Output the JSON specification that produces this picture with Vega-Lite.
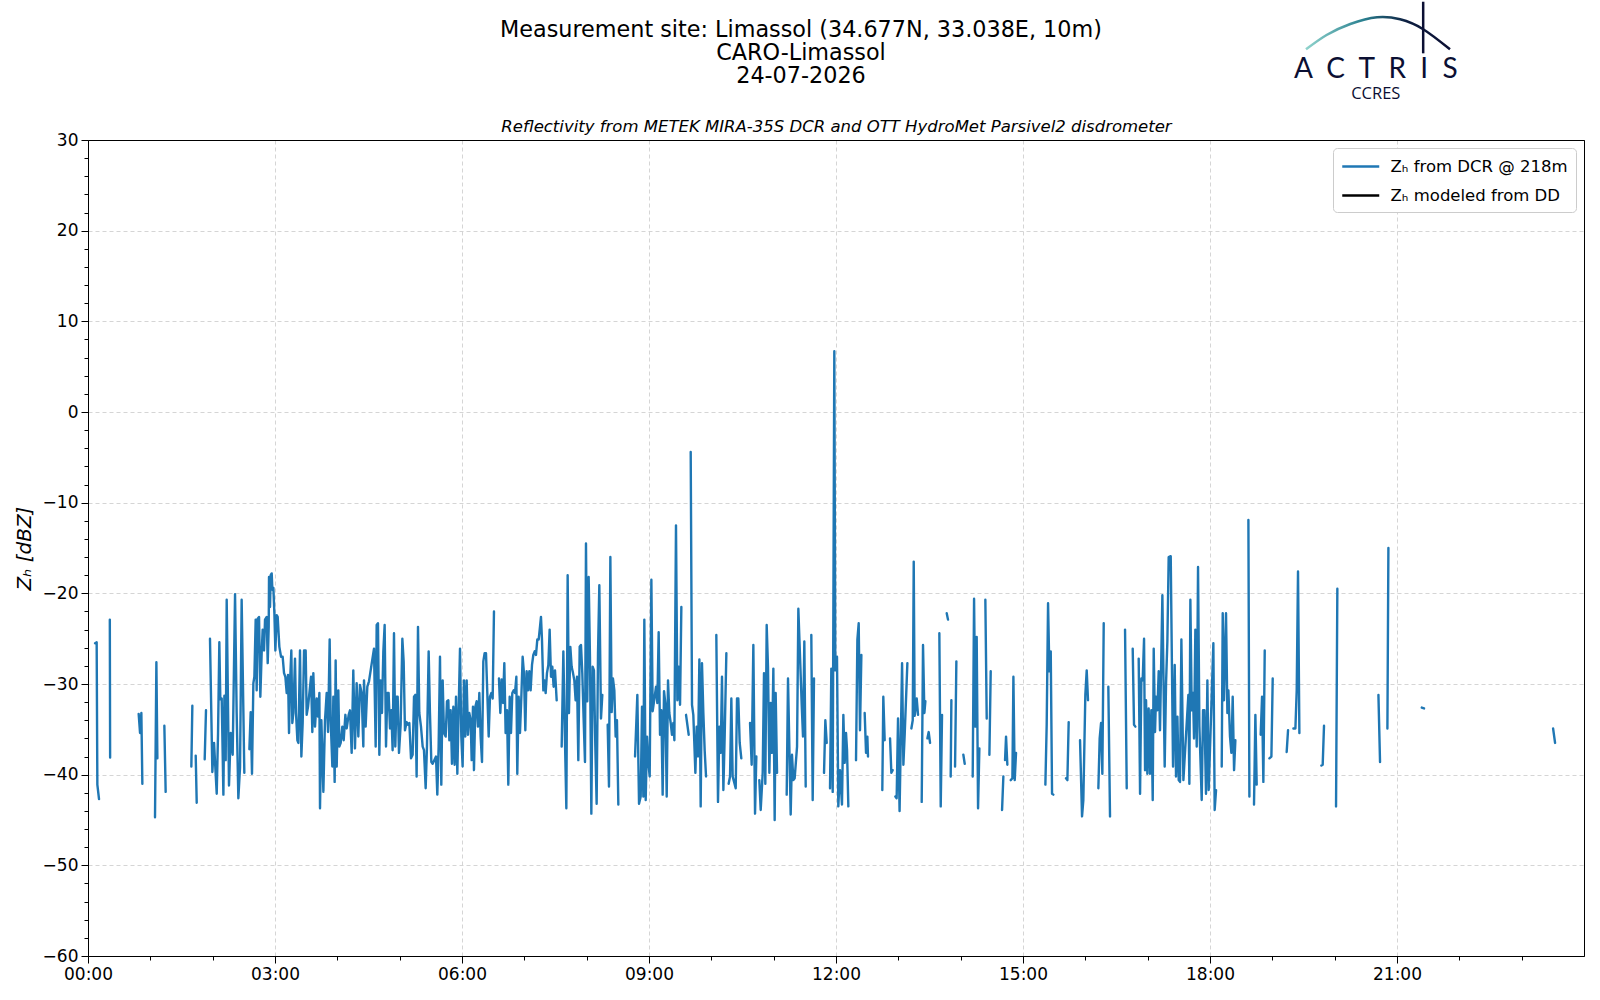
{
"$schema": "https://vega.github.io/schema/vega-lite/v6.json",
"width": 1496, "height": 816,
"autosize": {"type": "none"},
"padding": {"left": 88, "top": 140, "right": 16, "bottom": 44},
"background": "white",
"title": {"text": ["Measurement site: Limassol (34.677N, 33.038E, 10m)", "CARO-Limassol", "24-07-2026"], "fontSize": 22.3, "font": "DejaVu Sans", "fontWeight": "normal", "color": "black", "anchor": "middle", "dx": -35, "lineHeight": 23.2, "offset": -87},
"config": {"view": {"stroke": "black", "strokeWidth": 1}, "font": "DejaVu Sans"},
"layer": [
{
"data": {"values": [
{"t":0.113,"z":-25.5,"g":1},{"t":0.139,"z":-25.4,"g":1},{"t":0.150,"z":-41.1,"g":1},{"t":0.177,"z":-42.7,"g":1},
{"t":0.350,"z":-22.9,"g":2},{"t":0.355,"z":-38.1,"g":2},
{"t":0.813,"z":-33.3,"g":3},{"t":0.835,"z":-35.4,"g":3},{"t":0.856,"z":-33.2,"g":3},{"t":0.872,"z":-41.0,"g":3},
{"t":1.075,"z":-44.7,"g":4},{"t":1.097,"z":-27.6,"g":4},{"t":1.113,"z":-38.2,"g":4},
{"t":1.225,"z":-34.6,"g":5},{"t":1.246,"z":-41.9,"g":5},
{"t":1.658,"z":-39.1,"g":6},{"t":1.674,"z":-32.4,"g":6},
{"t":1.728,"z":-37.9,"g":7},{"t":1.744,"z":-43.1,"g":7},
{"t":1.872,"z":-38.3,"g":8},{"t":1.893,"z":-32.9,"g":8},
{"t":1.957,"z":-25.0,"g":9},{"t":1.995,"z":-39.7,"g":9},{"t":2.022,"z":-36.5,"g":9},{"t":2.065,"z":-42.1,"g":9},{"t":2.086,"z":-35.5,"g":9},{"t":2.107,"z":-25.4,"g":9},{"t":2.123,"z":-31.7,"g":9},{"t":2.145,"z":-31.6,"g":9},{"t":2.172,"z":-42.2,"g":9},{"t":2.188,"z":-31.3,"g":9},{"t":2.209,"z":-38.4,"g":9},{"t":2.225,"z":-20.7,"g":9},{"t":2.262,"z":-41.2,"g":9},{"t":2.289,"z":-35.4,"g":9},{"t":2.321,"z":-37.8,"g":9},{"t":2.359,"z":-20.1,"g":9},{"t":2.385,"z":-33.2,"g":9},{"t":2.412,"z":-42.6,"g":9},{"t":2.439,"z":-39.2,"g":9},{"t":2.465,"z":-20.7,"g":9},{"t":2.508,"z":-39.8,"g":9},
{"t":2.589,"z":-37.2,"g":10},{"t":2.610,"z":-33.1,"g":10},{"t":2.631,"z":-39.9,"g":10},{"t":2.653,"z":-29.9,"g":10},{"t":2.669,"z":-29.2,"g":10},{"t":2.690,"z":-22.9,"g":10},{"t":2.706,"z":-30.7,"g":10},{"t":2.722,"z":-22.8,"g":10},{"t":2.744,"z":-22.6,"g":10},{"t":2.765,"z":-31.4,"g":10},{"t":2.786,"z":-26.6,"g":10},{"t":2.802,"z":-24.0,"g":10},{"t":2.824,"z":-26.3,"g":10},{"t":2.840,"z":-22.9,"g":10},{"t":2.867,"z":-22.6,"g":10},{"t":2.883,"z":-27.7,"g":10},{"t":2.899,"z":-23.7,"g":10},{"t":2.904,"z":-18.2,"g":10},{"t":2.920,"z":-21.5,"g":10},{"t":2.931,"z":-18.0,"g":10},{"t":2.947,"z":-17.8,"g":10},{"t":2.958,"z":-19.6,"g":10},{"t":2.974,"z":-19.4,"g":10},{"t":2.990,"z":-22.2,"g":10},{"t":3.006,"z":-26.3,"g":10},{"t":3.027,"z":-22.4,"g":10},{"t":3.043,"z":-22.6,"g":10},{"t":3.070,"z":-25.9,"g":10},{"t":3.097,"z":-27.0,"g":10},{"t":3.123,"z":-27.0,"g":10},{"t":3.145,"z":-28.8,"g":10},{"t":3.166,"z":-29.2,"g":10},{"t":3.188,"z":-31.0,"g":10},{"t":3.209,"z":-29.0,"g":10},{"t":3.225,"z":-35.4,"g":10},{"t":3.241,"z":-29.9,"g":10},{"t":3.262,"z":-26.3,"g":10},{"t":3.278,"z":-34.3,"g":10},{"t":3.294,"z":-33.2,"g":10},{"t":3.321,"z":-27.2,"g":10},{"t":3.337,"z":-33.2,"g":10},{"t":3.359,"z":-36.2,"g":10},{"t":3.375,"z":-36.5,"g":10},{"t":3.401,"z":-26.3,"g":10},{"t":3.423,"z":-38.0,"g":10},{"t":3.444,"z":-34.3,"g":10},{"t":3.466,"z":-26.3,"g":10},{"t":3.492,"z":-26.3,"g":10},{"t":3.508,"z":-33.4,"g":10},{"t":3.530,"z":-32.5,"g":10},{"t":3.578,"z":-29.2,"g":10},{"t":3.599,"z":-35.3,"g":10},{"t":3.615,"z":-28.8,"g":10},{"t":3.642,"z":-34.7,"g":10},{"t":3.669,"z":-31.6,"g":10},{"t":3.690,"z":-33.6,"g":10},{"t":3.712,"z":-31.0,"g":10},{"t":3.722,"z":-43.7,"g":10},{"t":3.744,"z":-34.0,"g":10},{"t":3.776,"z":-41.9,"g":10},{"t":3.802,"z":-34.0,"g":10},{"t":3.829,"z":-31.0,"g":10},{"t":3.851,"z":-35.3,"g":10},{"t":3.877,"z":-25.1,"g":10},{"t":3.893,"z":-34.0,"g":10},{"t":3.920,"z":-39.1,"g":10},{"t":3.936,"z":-31.4,"g":10},{"t":3.957,"z":-40.8,"g":10},{"t":3.973,"z":-27.4,"g":10},{"t":3.990,"z":-39.1,"g":10},{"t":4.016,"z":-30.7,"g":10},{"t":4.032,"z":-36.9,"g":10},{"t":4.054,"z":-36.5,"g":10},{"t":4.080,"z":-34.7,"g":10},{"t":4.102,"z":-36.2,"g":10},{"t":4.129,"z":-33.4,"g":10},{"t":4.150,"z":-34.9,"g":10},{"t":4.182,"z":-33.4,"g":10},
{"t":4.203,"z":-32.9,"g":10},{"t":4.230,"z":-37.6,"g":10},{"t":4.256,"z":-28.5,"g":10},{"t":4.283,"z":-37.1,"g":10},{"t":4.310,"z":-29.9,"g":10},{"t":4.337,"z":-35.8,"g":10},{"t":4.363,"z":-30.1,"g":10},{"t":4.390,"z":-31.0,"g":10},{"t":4.417,"z":-36.9,"g":10},{"t":4.428,"z":-29.6,"g":10},{"t":4.454,"z":-34.7,"g":10},{"t":4.481,"z":-30.3,"g":10},{"t":4.508,"z":-29.7,"g":10},{"t":4.588,"z":-26.1,"g":10},{"t":4.615,"z":-36.9,"g":10},{"t":4.631,"z":-23.5,"g":10},{"t":4.652,"z":-23.3,"g":10},{"t":4.674,"z":-37.8,"g":10},{"t":4.695,"z":-29.6,"g":10},{"t":4.716,"z":-33.2,"g":10},{"t":4.738,"z":-26.4,"g":10},{"t":4.759,"z":-23.5,"g":10},{"t":4.781,"z":-36.9,"g":10},{"t":4.802,"z":-31.0,"g":10},{"t":4.823,"z":-31.0,"g":10},{"t":4.845,"z":-34.9,"g":10},{"t":4.866,"z":-32.9,"g":10},{"t":4.887,"z":-37.3,"g":10},{"t":4.909,"z":-24.4,"g":10},{"t":4.930,"z":-36.9,"g":10},{"t":4.952,"z":-31.4,"g":10},{"t":4.968,"z":-31.4,"g":10},{"t":4.989,"z":-37.6,"g":10},{"t":5.016,"z":-34.5,"g":10},{"t":5.043,"z":-25.0,"g":10},{"t":5.064,"z":-27.5,"g":10},{"t":5.085,"z":-35.1,"g":10},{"t":5.112,"z":-34.2,"g":10},{"t":5.133,"z":-34.5,"g":10},{"t":5.155,"z":-34.3,"g":10},{"t":5.182,"z":-38.2,"g":10},{"t":5.208,"z":-37.8,"g":10},{"t":5.230,"z":-31.4,"g":10},{"t":5.251,"z":-31.2,"g":10},{"t":5.272,"z":-40.2,"g":10},{"t":5.294,"z":-23.7,"g":10},{"t":5.315,"z":-33.2,"g":10},{"t":5.342,"z":-34.7,"g":10},{"t":5.369,"z":-36.9,"g":10},{"t":5.390,"z":-37.3,"g":10},{"t":5.417,"z":-41.5,"g":10},{"t":5.438,"z":-36.9,"g":10},{"t":5.465,"z":-26.4,"g":10},{"t":5.486,"z":-33.2,"g":10},{"t":5.508,"z":-38.6,"g":10},{"t":5.529,"z":-38.8,"g":10},{"t":5.583,"z":-38.0,"g":10},{"t":5.604,"z":-42.2,"g":10},{"t":5.625,"z":-36.9,"g":10},{"t":5.647,"z":-27.0,"g":10},{"t":5.668,"z":-41.1,"g":10},{"t":5.690,"z":-29.6,"g":10},{"t":5.711,"z":-35.4,"g":10},{"t":5.738,"z":-35.8,"g":10},{"t":5.759,"z":-31.9,"g":10},{"t":5.781,"z":-31.8,"g":10},{"t":5.797,"z":-36.2,"g":10},{"t":5.818,"z":-32.9,"g":10},{"t":5.839,"z":-38.8,"g":10},{"t":5.861,"z":-32.5,"g":10},{"t":5.882,"z":-38.9,"g":10},{"t":5.904,"z":-31.4,"g":10},{"t":5.925,"z":-39.9,"g":10},{"t":5.946,"z":-32.9,"g":10},{"t":5.968,"z":-26.1,"g":10},{"t":5.989,"z":-35.8,"g":10},{"t":6.010,"z":-39.1,"g":10},{"t":6.032,"z":-29.6,"g":10},{"t":6.053,"z":-35.8,"g":10},{"t":6.075,"z":-29.6,"g":10},{"t":6.096,"z":-35.6,"g":10},{"t":6.117,"z":-33.2,"g":10},{"t":6.139,"z":-34.0,"g":10},{"t":6.155,"z":-38.4,"g":10},{"t":6.176,"z":-32.5,"g":10},{"t":6.192,"z":-39.5,"g":10},{"t":6.214,"z":-32.5,"g":10},{"t":6.235,"z":-31.9,"g":10},{"t":6.256,"z":-34.7,"g":10},{"t":6.278,"z":-31.0,"g":10},{"t":6.299,"z":-35.8,"g":10},{"t":6.321,"z":-38.6,"g":10},{"t":6.342,"z":-27.5,"g":10},{"t":6.363,"z":-26.6,"g":10},{"t":6.385,"z":-26.6,"g":10},{"t":6.406,"z":-31.0,"g":10},{"t":6.428,"z":-35.8,"g":10},{"t":6.449,"z":-31.4,"g":10},{"t":6.470,"z":-31.0,"g":10},{"t":6.492,"z":-31.6,"g":10},{"t":6.513,"z":-22.0,"g":10},
{"t":6.593,"z":-29.4,"g":11},{"t":6.615,"z":-33.2,"g":11},{"t":6.636,"z":-29.5,"g":11},{"t":6.658,"z":-32.1,"g":11},{"t":6.679,"z":-27.7,"g":11},{"t":6.700,"z":-35.4,"g":11},{"t":6.722,"z":-32.9,"g":11},{"t":6.743,"z":-41.1,"g":11},{"t":6.765,"z":-31.4,"g":11},{"t":6.786,"z":-35.4,"g":11},{"t":6.807,"z":-31.0,"g":11},{"t":6.829,"z":-30.7,"g":11},{"t":6.850,"z":-31.0,"g":11},{"t":6.872,"z":-29.2,"g":11},{"t":6.887,"z":-39.9,"g":11},{"t":6.909,"z":-31.4,"g":11},{"t":6.930,"z":-35.4,"g":11},{"t":6.952,"z":-31.4,"g":11},{"t":6.973,"z":-27.0,"g":11},{"t":6.994,"z":-28.8,"g":11},{"t":7.016,"z":-35.1,"g":11},{"t":7.037,"z":-28.6,"g":11},{"t":7.059,"z":-30.7,"g":11},{"t":7.080,"z":-28.6,"g":11},{"t":7.101,"z":-30.7,"g":11},{"t":7.123,"z":-27.9,"g":11},{"t":7.144,"z":-26.8,"g":11},{"t":7.166,"z":-26.4,"g":11},{"t":7.187,"z":-26.8,"g":11},{"t":7.208,"z":-25.1,"g":11},{"t":7.230,"z":-25.1,"g":11},{"t":7.251,"z":-23.7,"g":11},{"t":7.267,"z":-22.6,"g":11},{"t":7.283,"z":-25.1,"g":11},{"t":7.305,"z":-30.7,"g":11},{"t":7.321,"z":-29.6,"g":11},{"t":7.342,"z":-31.0,"g":11},{"t":7.363,"z":-28.8,"g":11},{"t":7.385,"z":-27.9,"g":11},{"t":7.406,"z":-24.0,"g":11},{"t":7.428,"z":-29.2,"g":11},{"t":7.449,"z":-28.1,"g":11},{"t":7.470,"z":-30.3,"g":11},{"t":7.492,"z":-28.5,"g":11},{"t":7.519,"z":-31.8,"g":11},
{"t":7.599,"z":-36.9,"g":12},{"t":7.626,"z":-26.4,"g":12},{"t":7.652,"z":-36.2,"g":12},{"t":7.674,"z":-43.7,"g":12},{"t":7.695,"z":-18.0,"g":12},{"t":7.716,"z":-33.2,"g":12},{"t":7.738,"z":-25.9,"g":12},{"t":7.759,"z":-28.1,"g":12},{"t":7.781,"z":-28.8,"g":12},{"t":7.802,"z":-29.6,"g":12},{"t":7.823,"z":-31.8,"g":12},{"t":7.845,"z":-29.2,"g":12},{"t":7.866,"z":-38.4,"g":12},{"t":7.888,"z":-25.9,"g":12},{"t":7.909,"z":-25.7,"g":12},{"t":7.930,"z":-28.8,"g":12},{"t":7.952,"z":-34.0,"g":12},{"t":7.973,"z":-38.6,"g":12},{"t":7.989,"z":-14.5,"g":12},{"t":8.010,"z":-31.9,"g":12},{"t":8.032,"z":-18.2,"g":12},{"t":8.053,"z":-27.0,"g":12},{"t":8.075,"z":-44.3,"g":12},{"t":8.096,"z":-28.1,"g":12},{"t":8.117,"z":-28.5,"g":12},{"t":8.139,"z":-36.9,"g":12},{"t":8.160,"z":-43.2,"g":12},{"t":8.182,"z":-26.6,"g":12},{"t":8.203,"z":-19.1,"g":12},{"t":8.230,"z":-33.8,"g":12},{"t":8.251,"z":-31.2,"g":12},
{"t":8.337,"z":-34.5,"g":13},{"t":8.358,"z":-41.3,"g":13},{"t":8.380,"z":-16.0,"g":13},{"t":8.401,"z":-33.1,"g":13},{"t":8.422,"z":-29.4,"g":13},{"t":8.444,"z":-30.7,"g":13},{"t":8.465,"z":-35.8,"g":13},{"t":8.486,"z":-34.0,"g":13},{"t":8.508,"z":-43.3,"g":13},
{"t":8.776,"z":-38.0,"g":14},{"t":8.813,"z":-31.2,"g":14},{"t":8.840,"z":-43.2,"g":14},{"t":8.867,"z":-42.4,"g":14},{"t":8.888,"z":-32.5,"g":14},{"t":8.909,"z":-42.4,"g":14},{"t":8.925,"z":-22.9,"g":14},{"t":8.947,"z":-42.8,"g":14},{"t":8.968,"z":-35.8,"g":14},{"t":8.990,"z":-38.7,"g":14},{"t":9.011,"z":-40.2,"g":14},{"t":9.038,"z":-18.5,"g":14},{"t":9.059,"z":-33.0,"g":14},{"t":9.113,"z":-30.3,"g":14},{"t":9.134,"z":-32.1,"g":14},{"t":9.155,"z":-24.3,"g":14},{"t":9.177,"z":-35.6,"g":14},{"t":9.198,"z":-32.9,"g":14},{"t":9.219,"z":-42.2,"g":14},{"t":9.241,"z":-30.8,"g":14},{"t":9.262,"z":-32.1,"g":14},{"t":9.284,"z":-42.4,"g":14},{"t":9.305,"z":-29.6,"g":14},{"t":9.326,"z":-33.2,"g":14},{"t":9.348,"z":-34.3,"g":14},{"t":9.369,"z":-35.6,"g":14},{"t":9.391,"z":-34.3,"g":14},{"t":9.407,"z":-36.2,"g":14},{"t":9.433,"z":-12.5,"g":14},{"t":9.455,"z":-31.8,"g":14},{"t":9.476,"z":-28.1,"g":14},{"t":9.498,"z":-32.3,"g":14},{"t":9.519,"z":-21.5,"g":14},
{"t":9.594,"z":-33.4,"g":15},{"t":9.637,"z":-35.6,"g":15},
{"t":9.669,"z":-4.4,"g":16},{"t":9.690,"z":-32.3,"g":16},{"t":9.711,"z":-33.4,"g":16},{"t":9.744,"z":-39.8,"g":16},{"t":9.765,"z":-34.7,"g":16},{"t":9.786,"z":-38.0,"g":16},{"t":9.808,"z":-27.3,"g":16},{"t":9.829,"z":-43.5,"g":16},{"t":9.850,"z":-27.7,"g":16},{"t":9.872,"z":-33.2,"g":16},{"t":9.893,"z":-37.3,"g":16},{"t":9.915,"z":-40.2,"g":16},
{"t":10.080,"z":-24.6,"g":17},{"t":10.107,"z":-43.0,"g":17},{"t":10.129,"z":-34.7,"g":17},{"t":10.150,"z":-37.6,"g":17},{"t":10.171,"z":-29.2,"g":17},{"t":10.193,"z":-41.7,"g":17},{"t":10.214,"z":-35.8,"g":17},{"t":10.241,"z":-26.6,"g":17},
{"t":10.278,"z":-41.0,"g":18},{"t":10.300,"z":-40.2,"g":18},{"t":10.321,"z":-31.6,"g":18},{"t":10.342,"z":-40.2,"g":18},{"t":10.391,"z":-41.5,"g":18},{"t":10.412,"z":-31.6,"g":18},{"t":10.433,"z":-31.6,"g":18},{"t":10.455,"z":-36.5,"g":18},{"t":10.481,"z":-38.2,"g":18},
{"t":10.621,"z":-34.3,"g":19},{"t":10.647,"z":-38.9,"g":19},{"t":10.674,"z":-25.7,"g":19},{"t":10.701,"z":-44.3,"g":19},{"t":10.722,"z":-38.0,"g":19},
{"t":10.770,"z":-40.6,"g":20},{"t":10.792,"z":-43.9,"g":20},{"t":10.824,"z":-39.8,"g":20},{"t":10.845,"z":-28.8,"g":20},{"t":10.866,"z":-41.0,"g":20},{"t":10.888,"z":-23.5,"g":20},{"t":10.909,"z":-28.1,"g":20},{"t":10.931,"z":-39.8,"g":20},{"t":10.952,"z":-32.1,"g":20},{"t":10.973,"z":-37.6,"g":20},{"t":10.995,"z":-28.3,"g":20},{"t":11.016,"z":-45.0,"g":20},{"t":11.032,"z":-31.0,"g":20},{"t":11.054,"z":-39.8,"g":20},
{"t":11.209,"z":-42.2,"g":21},{"t":11.230,"z":-29.4,"g":21},{"t":11.273,"z":-44.4,"g":21},{"t":11.294,"z":-37.8,"g":21},{"t":11.316,"z":-40.6,"g":21},{"t":11.337,"z":-40.4,"g":21},{"t":11.375,"z":-36.9,"g":21},{"t":11.396,"z":-21.7,"g":21},{"t":11.450,"z":-32.3,"g":21},{"t":11.471,"z":-35.8,"g":21},{"t":11.492,"z":-25.3,"g":21},{"t":11.514,"z":-41.3,"g":21},
{"t":11.604,"z":-24.6,"g":22},{"t":11.626,"z":-42.8,"g":22},{"t":11.647,"z":-29.4,"g":22},
{"t":11.808,"z":-39.8,"g":23},{"t":11.829,"z":-34.0,"g":23},{"t":11.851,"z":-36.5,"g":23},
{"t":11.904,"z":-41.5,"g":24},{"t":11.925,"z":-28.3,"g":24},{"t":11.947,"z":-41.9,"g":24},{"t":11.973,"z":6.7,"g":24},{"t":11.989,"z":-28.5,"g":24},{"t":12.016,"z":-27.0,"g":24},{"t":12.037,"z":-43.5,"g":24},{"t":12.064,"z":-39.5,"g":24},{"t":12.096,"z":-43.3,"g":24},{"t":12.118,"z":-33.4,"g":24},{"t":12.139,"z":-38.7,"g":24},{"t":12.161,"z":-35.4,"g":24},{"t":12.177,"z":-37.3,"g":24},{"t":12.198,"z":-43.5,"g":24},
{"t":12.321,"z":-38.4,"g":25},{"t":12.343,"z":-25.1,"g":25},{"t":12.364,"z":-23.3,"g":25},{"t":12.385,"z":-35.1,"g":25},{"t":12.407,"z":-26.8,"g":25},
{"t":12.460,"z":-33.2,"g":26},{"t":12.482,"z":-37.6,"g":26},{"t":12.503,"z":-35.8,"g":26},{"t":12.513,"z":-38.0,"g":26},
{"t":12.743,"z":-41.7,"g":27},{"t":12.759,"z":-31.4,"g":27},{"t":12.781,"z":-36.2,"g":27},
{"t":12.867,"z":-36.0,"g":28},{"t":12.888,"z":-39.8,"g":28},{"t":12.909,"z":-39.5,"g":28},
{"t":12.952,"z":-42.4,"g":29},{"t":12.973,"z":-42.6,"g":29},{"t":12.995,"z":-33.8,"g":29},{"t":13.020,"z":-44.0,"g":29},{"t":13.060,"z":-27.7,"g":29},{"t":13.081,"z":-38.9,"g":29},{"t":13.102,"z":-35.6,"g":29},{"t":13.145,"z":-27.7,"g":29},
{"t":13.209,"z":-34.9,"g":30},{"t":13.231,"z":-34.0,"g":30},{"t":13.247,"z":-16.5,"g":30},{"t":13.262,"z":-33.5,"g":30},{"t":13.295,"z":-31.6,"g":30},{"t":13.316,"z":-33.4,"g":30},
{"t":13.375,"z":-43.0,"g":31},{"t":13.396,"z":-25.7,"g":31},{"t":13.418,"z":-33.2,"g":31},{"t":13.434,"z":-31.9,"g":31},
{"t":13.466,"z":-36.0,"g":32},{"t":13.487,"z":-35.3,"g":32},{"t":13.509,"z":-36.5,"g":32},
{"t":13.658,"z":-24.4,"g":33},{"t":13.680,"z":-43.5,"g":33},{"t":13.701,"z":-33.4,"g":33},
{"t":13.776,"z":-22.2,"g":34},{"t":13.797,"z":-22.9,"g":34},
{"t":13.840,"z":-40.2,"g":35},{"t":13.851,"z":-31.8,"g":35},
{"t":13.910,"z":-39.1,"g":36},{"t":13.931,"z":-27.5,"g":36},
{"t":14.043,"z":-37.8,"g":37},{"t":14.065,"z":-38.8,"g":37},
{"t":14.193,"z":-40.2,"g":38},{"t":14.215,"z":-20.6,"g":38},{"t":14.236,"z":-34.7,"g":38},{"t":14.257,"z":-24.8,"g":38},{"t":14.279,"z":-43.7,"g":38},{"t":14.300,"z":-37.1,"g":38},
{"t":14.396,"z":-20.7,"g":39},{"t":14.418,"z":-33.8,"g":39},
{"t":14.461,"z":-37.8,"g":40},{"t":14.482,"z":-28.6,"g":40},
{"t":14.664,"z":-43.9,"g":41},{"t":14.685,"z":-40.2,"g":41},
{"t":14.712,"z":-38.4,"g":42},{"t":14.728,"z":-35.8,"g":42},{"t":14.749,"z":-38.9,"g":42},
{"t":14.803,"z":-40.6,"g":43},{"t":14.830,"z":-40.4,"g":43},{"t":14.846,"z":-29.2,"g":43},{"t":14.867,"z":-40.6,"g":43},{"t":14.888,"z":-37.6,"g":43},
{"t":15.359,"z":-41.1,"g":44},{"t":15.380,"z":-34.5,"g":44},{"t":15.402,"z":-21.1,"g":44},{"t":15.423,"z":-28.6,"g":44},{"t":15.445,"z":-26.4,"g":44},{"t":15.466,"z":-42.1,"g":44},{"t":15.487,"z":-42.2,"g":44},
{"t":15.690,"z":-40.4,"g":45},{"t":15.712,"z":-40.6,"g":45},{"t":15.733,"z":-34.2,"g":45},
{"t":15.915,"z":-36.2,"g":46},{"t":15.947,"z":-44.6,"g":46},{"t":15.968,"z":-42.8,"g":46},{"t":16.000,"z":-31.2,"g":46},{"t":16.022,"z":-28.5,"g":46},{"t":16.043,"z":-31.8,"g":46},
{"t":16.209,"z":-41.5,"g":47},{"t":16.230,"z":-36.0,"g":47},{"t":16.252,"z":-34.3,"g":47},{"t":16.273,"z":-39.9,"g":47},{"t":16.295,"z":-23.3,"g":47},
{"t":16.369,"z":-30.3,"g":48},{"t":16.396,"z":-44.6,"g":48},
{"t":16.637,"z":-24.0,"g":49},{"t":16.664,"z":-41.5,"g":49},
{"t":16.760,"z":-26.1,"g":50},{"t":16.781,"z":-34.5,"g":50},{"t":16.803,"z":-34.7,"g":50},
{"t":16.856,"z":-27.2,"g":51},{"t":16.878,"z":-42.1,"g":51},{"t":16.899,"z":-29.4,"g":51},{"t":16.920,"z":-29.6,"g":51},{"t":16.942,"z":-25.0,"g":51},{"t":16.958,"z":-39.5,"g":51},{"t":16.974,"z":-31.8,"g":51},{"t":16.995,"z":-39.9,"g":51},{"t":17.016,"z":-32.7,"g":51},{"t":17.038,"z":-39.9,"g":51},{"t":17.059,"z":-32.9,"g":51},{"t":17.081,"z":-42.8,"g":51},{"t":17.097,"z":-26.1,"g":51},{"t":17.118,"z":-35.3,"g":51},{"t":17.134,"z":-31.4,"g":51},{"t":17.156,"z":-32.9,"g":51},{"t":17.177,"z":-28.6,"g":51},{"t":17.198,"z":-35.1,"g":51},{"t":17.236,"z":-20.2,"g":51},{"t":17.273,"z":-39.1,"g":51},{"t":17.295,"z":-29.9,"g":51},{"t":17.316,"z":-25.3,"g":51},{"t":17.337,"z":-16.0,"g":51},{"t":17.370,"z":-15.9,"g":51},{"t":17.407,"z":-39.1,"g":51},{"t":17.434,"z":-27.9,"g":51},{"t":17.455,"z":-40.2,"g":51},{"t":17.477,"z":-33.6,"g":51},{"t":17.498,"z":-40.6,"g":51},{"t":17.519,"z":-40.8,"g":51},{"t":17.541,"z":-25.1,"g":51},{"t":17.573,"z":-40.6,"g":51},{"t":17.653,"z":-31.2,"g":51},{"t":17.669,"z":-41.0,"g":51},{"t":17.685,"z":-20.7,"g":51},{"t":17.707,"z":-32.9,"g":51},{"t":17.728,"z":-31.0,"g":51},{"t":17.744,"z":-36.0,"g":51},{"t":17.765,"z":-24.0,"g":51},{"t":17.787,"z":-36.9,"g":51},{"t":17.808,"z":-17.1,"g":51},{"t":17.830,"z":-34.7,"g":51},{"t":17.867,"z":-42.8,"g":51},{"t":17.888,"z":-32.9,"g":51},{"t":17.910,"z":-32.9,"g":51},{"t":17.936,"z":-42.1,"g":51},{"t":17.958,"z":-29.6,"g":51},{"t":17.979,"z":-41.7,"g":51},{"t":18.054,"z":-25.5,"g":51},{"t":18.075,"z":-43.9,"g":51},{"t":18.097,"z":-41.7,"g":51},
{"t":18.188,"z":-39.1,"g":52},{"t":18.204,"z":-22.2,"g":52},{"t":18.225,"z":-31.8,"g":52},{"t":18.257,"z":-22.2,"g":52},{"t":18.279,"z":-33.2,"g":52},{"t":18.295,"z":-30.7,"g":52},{"t":18.321,"z":-35.8,"g":52},{"t":18.343,"z":-37.6,"g":52},{"t":18.364,"z":-31.4,"g":52},{"t":18.386,"z":-39.5,"g":52},{"t":18.407,"z":-36.2,"g":52},
{"t":18.616,"z":-11.9,"g":53},{"t":18.632,"z":-42.4,"g":53},
{"t":18.706,"z":-43.3,"g":54},{"t":18.728,"z":-33.4,"g":54},{"t":18.749,"z":-41.1,"g":54},
{"t":18.813,"z":-35.6,"g":55},{"t":18.835,"z":-31.4,"g":55},{"t":18.856,"z":-40.8,"g":55},{"t":18.878,"z":-26.3,"g":55},
{"t":18.953,"z":-38.2,"g":56},{"t":18.985,"z":-38.0,"g":56},{"t":19.006,"z":-29.4,"g":56},
{"t":19.230,"z":-37.5,"g":57},{"t":19.252,"z":-35.1,"g":57},
{"t":19.338,"z":-34.9,"g":58},{"t":19.370,"z":-34.9,"g":58},{"t":19.391,"z":-30.7,"g":58},{"t":19.412,"z":-17.6,"g":58},{"t":19.434,"z":-35.4,"g":58},
{"t":19.787,"z":-39.0,"g":59},{"t":19.808,"z":-38.9,"g":59},{"t":19.829,"z":-34.6,"g":59},
{"t":20.022,"z":-43.5,"g":60},{"t":20.043,"z":-19.5,"g":60},
{"t":20.702,"z":-31.2,"g":61},{"t":20.728,"z":-38.6,"g":61},
{"t":20.846,"z":-34.9,"g":62},{"t":20.862,"z":-15.0,"g":62},
{"t":21.397,"z":-32.6,"g":63},{"t":21.434,"z":-32.7,"g":63},
{"t":23.504,"z":-34.9,"g":64},{"t":23.536,"z":-36.5,"g":64}
]},
"mark": {"type": "line", "strokeWidth": 2.4, "strokeJoin": "round", "strokeCap": "round"},
"encoding": {
"x": {"field": "t", "type": "quantitative", "scale": {"domain": [0, 24], "nice": false, "zero": false},
 "axis": {"orient": "bottom", "values": [0, 3, 6, 9, 12, 15, 18, 21], "labelExpr": "(datum.value < 10 ? '0' : '') + datum.value + ':00'", "title": null, "grid": true, "gridColor": "#d0d0d0", "gridDash": [4, 3], "gridWidth": 0.9, "tickSize": 7, "tickColor": "black", "domainColor": "black", "labelFontSize": 17, "labelColor": "black", "labelPadding": 3, "labelFont": "DejaVu Sans", "labelFlush": false}},
"y": {"field": "z", "type": "quantitative", "scale": {"domain": [-60, 30], "nice": false, "zero": false},
 "axis": {"orient": "left", "values": [-60, -50, -40, -30, -20, -10, 0, 10, 20, 30], "format": "d", "title": "Zₕ [dBZ]", "titleFont": "DejaVu Sans", "titleFontStyle": "italic", "titleFontWeight": "normal", "titleFontSize": 20, "titleColor": "black", "titlePadding": 8, "grid": true, "gridColor": "#d0d0d0", "gridDash": [4, 3], "gridWidth": 0.9, "tickSize": 7, "tickColor": "black", "domainColor": "black", "labelFontSize": 17, "labelColor": "black", "labelPadding": 3, "labelFont": "DejaVu Sans", "labelFlush": false}},
"detail": {"field": "g", "type": "nominal"},
"color": {"datum": "Zₕ from DCR @ 218m", "type": "nominal", "scale": {"domain": ["Zₕ from DCR @ 218m", "Zₕ modeled from DD"], "range": ["#1f77b4", "#000000"]},
 "legend": {"title": null, "orient": "top-right", "offset": 8, "padding": 8, "strokeColor": "#cccccc", "fillColor": "white", "cornerRadius": 4, "symbolType": "M-1,0H3", "symbolSize": 342, "symbolStrokeWidth": 2.4, "labelFontSize": 16.5, "labelFont": "DejaVu Sans", "labelColor": "black", "rowPadding": 10, "labelOffset": 28.5, "labelLimit": 400}}
}
},
{
"data": {"values": [{"t": 20.66, "z": 37.75, "name": "A\u00a0\u00a0C\u00a0\u00a0T\u00a0\u00a0R\u00a0\u00a0I\u00a0\u00a0S"}]},
"mark": {"type": "text", "font": "Lato", "fontSize": 28, "color": "#0b0f33", "align": "center", "baseline": "middle"},
"encoding": {
"x": {"field": "t", "type": "quantitative", "axis": {"orient": "bottom", "values": [1, 2, 4, 5, 7, 8, 10, 11, 13, 14, 16, 17, 19, 20, 22, 23], "labels": false, "tickSize": 4, "tickColor": "black", "grid": false, "domain": false, "title": null}},
"y": {"field": "z", "type": "quantitative", "axis": {"orient": "left", "values": [-58, -56, -54, -52, -48, -46, -44, -42, -38, -36, -34, -32, -28, -26, -24, -22, -18, -16, -14, -12, -8, -6, -4, -2, 2, 4, 6, 8, 12, 14, 16, 18, 22, 24, 26, 28], "labels": false, "tickSize": 4, "tickColor": "black", "grid": false, "domain": false, "title": null}},
"text": {"field": "name"}
}
},
{
"data": {"values": [{"t": 20.66, "z": 35.1, "name": "CCRES"}]},
"mark": {"type": "text", "font": "Open Sans", "fontSize": 16.5, "color": "#0b0f33", "align": "center", "baseline": "middle"},
"encoding": {
"x": {"field": "t", "type": "quantitative", "axis": null},
"y": {"field": "z", "type": "quantitative", "axis": null},
"text": {"field": "name"}
}
},
{
"data": {"values": [{"t": 19.54, "z": 40.0}, {"t": 19.87, "z": 41.58}, {"t": 20.25, "z": 42.79}, {"t": 20.68, "z": 43.54}, {"t": 21.05, "z": 43.31}, {"t": 21.42, "z": 42.22}, {"t": 21.85, "z": 40.0}]},
"mark": {"type": "line", "interpolate": "natural", "strokeWidth": 2.5, "stroke": {"gradient": "linear", "x1": 0, "y1": 0, "x2": 1, "y2": 0, "stops": [{"offset": 0, "color": "#8fd3cc"}, {"offset": 0.4, "color": "#2a8090"}, {"offset": 0.7, "color": "#0d1e40"}, {"offset": 1, "color": "#0b0f33"}]}},
"encoding": {
"x": {"field": "t", "type": "quantitative", "axis": {"orient": "top", "labels": false, "ticks": false, "domain": true, "domainColor": "black", "domainWidth": 1, "grid": false, "title": "Reflectivity from METEK MIRA-35S DCR and OTT HydroMet Parsivel2 disdrometer", "titleFont": "DejaVu Sans", "titleFontStyle": "italic", "titleFontWeight": "normal", "titleFontSize": 16.5, "titleColor": "black", "titlePadding": 6}},
"y": {"field": "z", "type": "quantitative", "axis": null}
}
},
{
"data": {"values": [{"t": 21.42, "z": 39.56, "z2": 45.25}]},
"mark": {"type": "rule", "strokeWidth": 2.5, "color": "#0b0f33"},
"encoding": {
"x": {"field": "t", "type": "quantitative", "axis": null},
"y": {"field": "z", "type": "quantitative", "axis": null},
"y2": {"field": "z2"}
}
}
],
"resolve": {"axis": {"x": "independent", "y": "independent"}}
}
